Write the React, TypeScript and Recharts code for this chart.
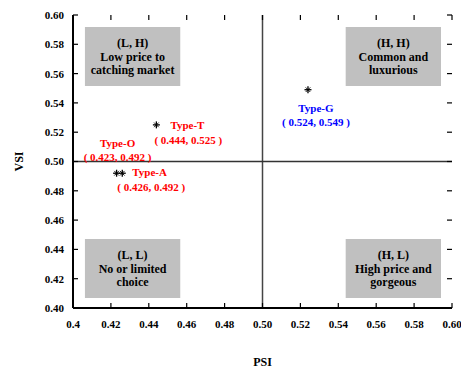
import React from "react"
import {
  ScatterChart,
  Scatter,
  XAxis,
  YAxis,
  ReferenceLine,
  ReferenceArea,
} from "recharts"

// positioning map of the four product types
const typeNames = ["Type-O", "Type-T", "Type-A", "Type-G"]
const psiValues = [0.423, 0.444, 0.426, 0.524]
const vsiValues = [0.492, 0.525, 0.492, 0.549]

const xTicks = [0.4, 0.42, 0.44, 0.46, 0.48, 0.5, 0.52, 0.54, 0.56, 0.58, 0.6]
const xTickLabels = ["0.4", "0.42", "0.44", "0.46", "0.48", "0.50", "0.52", "0.54", "0.56", "0.58", "0.60"]
const yTicks = [0.4, 0.42, 0.44, 0.46, 0.48, 0.5, 0.52, 0.54, 0.56, 0.58, 0.6]
const yTickLabels = ["0.40", "0.42", "0.44", "0.46", "0.48", "0.50", "0.52", "0.54", "0.56", "0.58", "0.60"]

const quadrantLines = [
  ["(L, H)", "Low price to", "catching market"],
  ["(H, H)", "Common and", "luxurious"],
  ["(L, L)", "No or limited", "choice"],
  ["(H, L)", "High price and", "gorgeous"],
]

const points = typeNames.map((name, i) => ({ name, psi: psiValues[i], vsi: vsiValues[i] }))

// where each point's caption sits, relative to the marker
const captionPlacement: Record<string, { nx: number; ny: number; anchor: string; cx: number; cy: number; color: string }> = {
  "Type-O": { nx: 1, ny: -30, anchor: "middle", cx: 1, cy: -16, color: "#ff0000" },
  "Type-T": { nx: 14, ny: 0, anchor: "start", cx: 32, cy: 15, color: "#ff0000" },
  "Type-A": { nx: 10, ny: -1, anchor: "start", cx: 29, cy: 14, color: "#ff0000" },
  "Type-G": { nx: 8, ny: 18, anchor: "middle", cx: 8, cy: 32, color: "#0000ff" },
}

const font = "'Liberation Serif', 'Times New Roman', serif"

// inward tick length (5px) expressed in axis units: plot is 379 x 293 px
const X_MIN = 0.4
const X_MAX = 0.6
const Y_MIN = 0.4
const Y_MAX = 0.6
const TICK_DY = ((Y_MAX - Y_MIN) * 5) / 293
const TICK_DX = ((X_MAX - X_MIN) * 5) / 379

const StarPoint = (props: any) => {
  const { cx, cy, payload } = props
  const p = captionPlacement[payload.name]
  const r = 3.5
  const d = 2.3
  return (
    <g>
      <line x1={cx - r} y1={cy} x2={cx + r} y2={cy} stroke="#000" strokeWidth={1.3} />
      <line x1={cx} y1={cy - r} x2={cx} y2={cy + r} stroke="#000" strokeWidth={1.3} />
      <line x1={cx - d} y1={cy - d} x2={cx + d} y2={cy + d} stroke="#000" strokeWidth={0.9} />
      <line x1={cx - d} y1={cy + d} x2={cx + d} y2={cy - d} stroke="#000" strokeWidth={0.9} />
      <text x={cx + p.nx} y={cy + p.ny} dy="0.35em" textAnchor={p.anchor} fill={p.color}
        fontFamily={font} fontWeight="bold" fontSize={11}>
        {payload.name}
      </text>
      <text x={cx + p.cx} y={cy + p.cy} dy="0.35em" textAnchor="middle" fill={p.color}
        fontFamily={font} fontWeight="bold" fontSize={11} style={{ whiteSpace: "pre" }}>
        {`( ${payload.psi.toFixed(3)}, ${payload.vsi.toFixed(3)} )`}
      </text>
    </g>
  )
}

const boxLabel = (lines: string[]) => (props: any) => {
  const vb = props.viewBox
  const mx = vb.x + vb.width / 2
  const my = vb.y + vb.height / 2
  return (
    <text x={mx} y={my} textAnchor="middle" fontFamily={font} fontWeight="bold" fontSize={12} fill="#000">
      {lines.map((l, i) => (
        <tspan key={i} x={mx} y={my + (i - 1) * 13.7} dy="0.35em">
          {l}
        </tspan>
      ))}
    </text>
  )
}

const BottomTick = (props: any) => {
  const { x, y, index } = props
  return (
    <text x={x} y={y} dy="0.71em" textAnchor="middle" fontFamily={font} fontWeight="bold" fontSize={11} fill="#000">
      {xTickLabels[index]}
    </text>
  )
}

const LeftTick = (props: any) => {
  const { x, y, index } = props
  return (
    <text x={x} y={y} dy="0.355em" textAnchor="end" fontFamily={font} fontWeight="bold" fontSize={11} fill="#000">
      {yTickLabels[index]}
    </text>
  )
}

export default function App() {
  return (
    <div style={{ position: "absolute", left: 0, top: 0, width: 461, height: 368, background: "#fff" }}>
      <ScatterChart width={461} height={368} margin={{ top: 15, right: 9, left: 0, bottom: 0 }}>
        <ReferenceArea x1={0.4063} x2={0.4566} y1={0.5515} y2={0.5918} fill="#c0c0c0" fillOpacity={1} stroke="none" label={boxLabel(quadrantLines[0])} />
        <ReferenceArea x1={0.5439} x2={0.5942} y1={0.5515} y2={0.5918} fill="#c0c0c0" fillOpacity={1} stroke="none" label={boxLabel(quadrantLines[1])} />
        <ReferenceArea x1={0.4063} x2={0.4566} y1={0.4068} y2={0.4471} fill="#c0c0c0" fillOpacity={1} stroke="none" label={boxLabel(quadrantLines[2])} />
        <ReferenceArea x1={0.5439} x2={0.5942} y1={0.4068} y2={0.4471} fill="#c0c0c0" fillOpacity={1} stroke="none" label={boxLabel(quadrantLines[3])} />
        <ReferenceLine x={0.5} stroke="#444" strokeWidth={1.5} />
        <ReferenceLine y={0.5} stroke="#333" strokeWidth={1.5} />
        {/* inward tick marks on all four sides */}
        {xTicks.map((t) => (
          <ReferenceLine key={`xb${t}`} segment={[{ x: t, y: Y_MIN }, { x: t, y: Y_MIN + TICK_DY }]} stroke="#000" strokeWidth={1.2} ifOverflow="visible" />
        ))}
        {xTicks.map((t) => (
          <ReferenceLine key={`xt${t}`} segment={[{ x: t, y: Y_MAX }, { x: t, y: Y_MAX - TICK_DY }]} stroke="#000" strokeWidth={1.2} ifOverflow="visible" />
        ))}
        {yTicks.map((t) => (
          <ReferenceLine key={`yl${t}`} segment={[{ x: X_MIN, y: t }, { x: X_MIN + TICK_DX, y: t }]} stroke="#000" strokeWidth={1.2} ifOverflow="visible" />
        ))}
        {yTicks.map((t) => (
          <ReferenceLine key={`yr${t}`} segment={[{ x: X_MAX, y: t }, { x: X_MAX - TICK_DX, y: t }]} stroke="#000" strokeWidth={1.2} ifOverflow="visible" />
        ))}
        <XAxis
          dataKey="psi"
          type="number"
          domain={[X_MIN, X_MAX]}
          ticks={xTicks}
          interval={0}
          allowDataOverflow
          height={60}
          tickSize={0}
          tickMargin={12}
          tickLine={false}
          tick={BottomTick}
          axisLine={{ stroke: "#000", strokeWidth: 2 }}
          label={{
            value: "PSI",
            position: "insideBottom",
            offset: 2,
            style: { fontFamily: font, fontWeight: "bold", fontSize: 12, fill: "#000" },
          }}
        />
        <XAxis
          xAxisId="top"
          orientation="top"
          type="number"
          domain={[X_MIN, X_MAX]}
          height={0}
          tick={false}
          tickLine={false}
          axisLine={{ stroke: "#000", strokeWidth: 2 }}
        />
        <YAxis
          dataKey="vsi"
          type="number"
          domain={[Y_MIN, Y_MAX]}
          ticks={yTicks}
          interval={0}
          allowDataOverflow
          width={73}
          tickSize={0}
          tickMargin={9}
          tickLine={false}
          tick={LeftTick}
          axisLine={{ stroke: "#000", strokeWidth: 2 }}
          label={{
            value: "VSI",
            angle: -90,
            position: "insideLeft",
            offset: 19,
            style: { fontFamily: font, fontWeight: "bold", fontSize: 12, fill: "#000", textAnchor: "middle" },
          }}
        />
        <YAxis
          yAxisId="right"
          orientation="right"
          type="number"
          domain={[Y_MIN, Y_MAX]}
          width={0}
          tick={false}
          tickLine={false}
          axisLine={{ stroke: "#222", strokeWidth: 2 }}
        />
        <Scatter data={points} shape={StarPoint} isAnimationActive={false} />
      </ScatterChart>
    </div>
  )
}
